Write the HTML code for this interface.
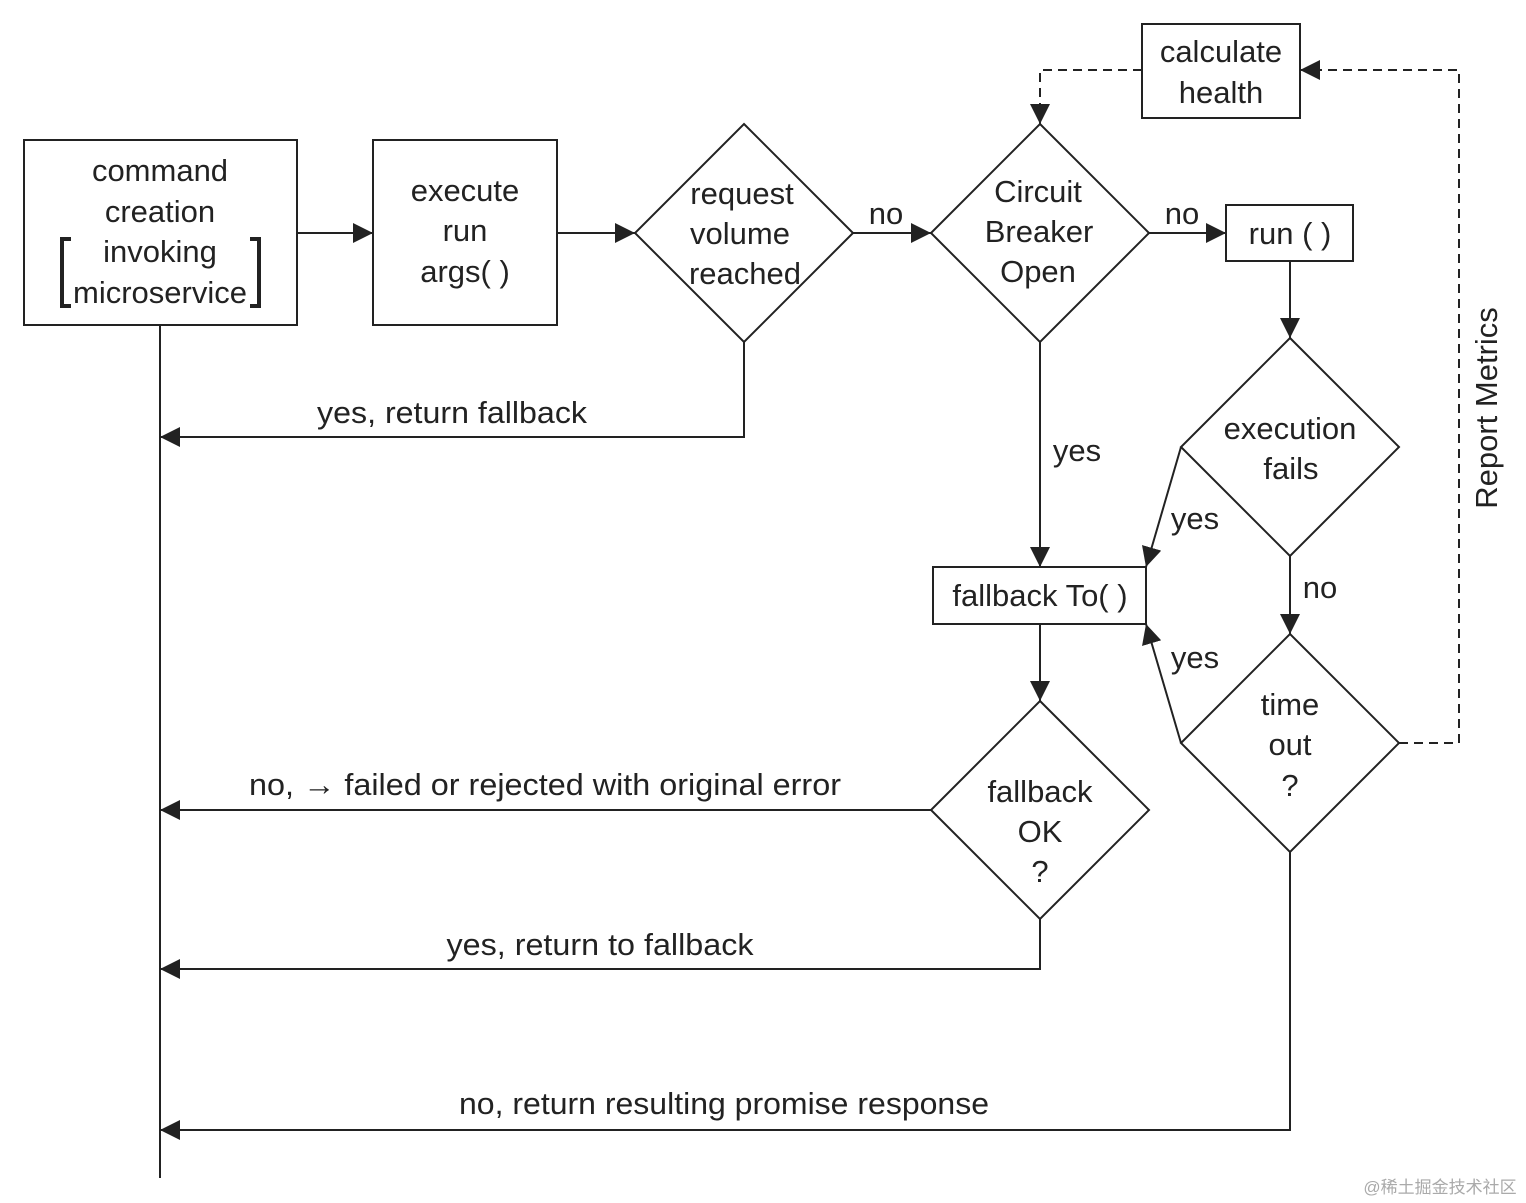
<!DOCTYPE html>
<html><head><meta charset="utf-8"><style>
html,body{margin:0;padding:0;background:#fff;}
svg{display:block;}
text{font-family:"Liberation Sans","Noto Sans CJK SC",sans-serif;font-size:31px;fill:#222;text-anchor:middle;}
</style></head><body>
<svg width="1526" height="1203" viewBox="0 0 1526 1203" xmlns="http://www.w3.org/2000/svg">
<defs>
<marker id="a" viewBox="0 0 10 10" refX="10" refY="5" markerWidth="20" markerHeight="20" markerUnits="userSpaceOnUse" orient="auto">
<path d="M0,0 L10,5 L0,10 z" fill="#222"/></marker>
</defs>
<g fill="none" stroke="#222" stroke-width="2">
<rect x="24" y="140" width="273" height="185"/>
<rect x="373" y="140" width="184" height="185"/>
<polygon points="744,124 853,233 744,342 635,233"/>
<polygon points="1040,124 1149,233 1040,342 931,233"/>
<rect x="1226" y="205" width="127" height="56"/>
<polygon points="1290,338 1399,447 1290,556 1181,447"/>
<polygon points="1290,634 1399,743 1290,852 1181,743"/>
<rect x="1142" y="24" width="158" height="94"/>
<rect x="933" y="567" width="213" height="57"/>
<polygon points="1040,701 1149,810 1040,919 931,810"/>
<path d="M71,239 H62 V306 H71" stroke-width="4"/>
<path d="M250,239 H259 V306 H250" stroke-width="4"/>
<line x1="297" y1="233" x2="373" y2="233" marker-end="url(#a)"/>
<line x1="557" y1="233" x2="635" y2="233" marker-end="url(#a)"/>
<line x1="853" y1="233" x2="931" y2="233" marker-end="url(#a)"/>
<line x1="1149" y1="233" x2="1226" y2="233" marker-end="url(#a)"/>
<line x1="1290" y1="261" x2="1290" y2="338" marker-end="url(#a)"/>
<line x1="1290" y1="556" x2="1290" y2="634" marker-end="url(#a)"/>
<line x1="1040" y1="342" x2="1040" y2="567" marker-end="url(#a)"/>
<line x1="1181" y1="447" x2="1146" y2="567" marker-end="url(#a)"/>
<line x1="1181" y1="743" x2="1146" y2="624" marker-end="url(#a)"/>
<line x1="1040" y1="624" x2="1040" y2="701" marker-end="url(#a)"/>
<polyline points="744,342 744,437 160,437" marker-end="url(#a)"/>
<line x1="931" y1="810" x2="160" y2="810" marker-end="url(#a)"/>
<polyline points="1040,919 1040,969 160,969" marker-end="url(#a)"/>
<polyline points="1290,852 1290,1130 160,1130" marker-end="url(#a)"/>
<line x1="160" y1="325" x2="160" y2="1178"/>
<polyline points="1399,743 1459,743 1459,70 1300,70" stroke-dasharray="9,6" marker-end="url(#a)"/>
<polyline points="1142,70 1040,70 1040,124" stroke-dasharray="9,6" marker-end="url(#a)"/>
</g>
<text x="160" y="181">command</text>
<text x="160" y="222">creation</text>
<text x="160" y="262">invoking</text>
<text x="160" y="303">microservice</text>
<text x="465" y="201">execute</text>
<text x="465" y="241">run</text>
<text x="465" y="282">args( )</text>
<text x="742" y="204">request</text>
<text x="740" y="244">volume</text>
<text x="745" y="284">reached</text>
<text x="886" y="224">no</text>
<text x="1038" y="202">Circuit</text>
<text x="1039" y="242">Breaker</text>
<text x="1038" y="282">Open</text>
<text x="1182" y="224">no</text>
<text x="1290" y="244">run ( )</text>
<text x="1290" y="439">execution</text>
<text x="1291" y="479">fails</text>
<text x="1320" y="598">no</text>
<text x="1290" y="715">time</text>
<text x="1290" y="755">out</text>
<text x="1290" y="796">?</text>
<text x="1221" y="62">calculate</text>
<text x="1221" y="103">health</text>
<text transform="translate(1497,408) rotate(-90)">Report Metrics</text>
<text x="1077" y="461">yes</text>
<text x="1040" y="606">fallback To( )</text>
<text x="1195" y="529">yes</text>
<text x="1195" y="668">yes</text>
<text x="1040" y="802">fallback</text>
<text x="1040" y="842">OK</text>
<text x="1040" y="882">?</text>
<text x="452" y="423" textLength="270" lengthAdjust="spacingAndGlyphs">yes, return fallback</text>
<text x="545" y="795" textLength="592" lengthAdjust="spacingAndGlyphs">no, → failed or rejected with original error</text>
<text x="600" y="955" textLength="307" lengthAdjust="spacingAndGlyphs">yes, return to fallback</text>
<text x="724" y="1114" textLength="530" lengthAdjust="spacingAndGlyphs">no, return resulting promise response</text>
<text x="1440" y="1193" style="font-size:17px;fill:#aaa">@稀土掘金技术社区</text>
</svg>
</body></html>
